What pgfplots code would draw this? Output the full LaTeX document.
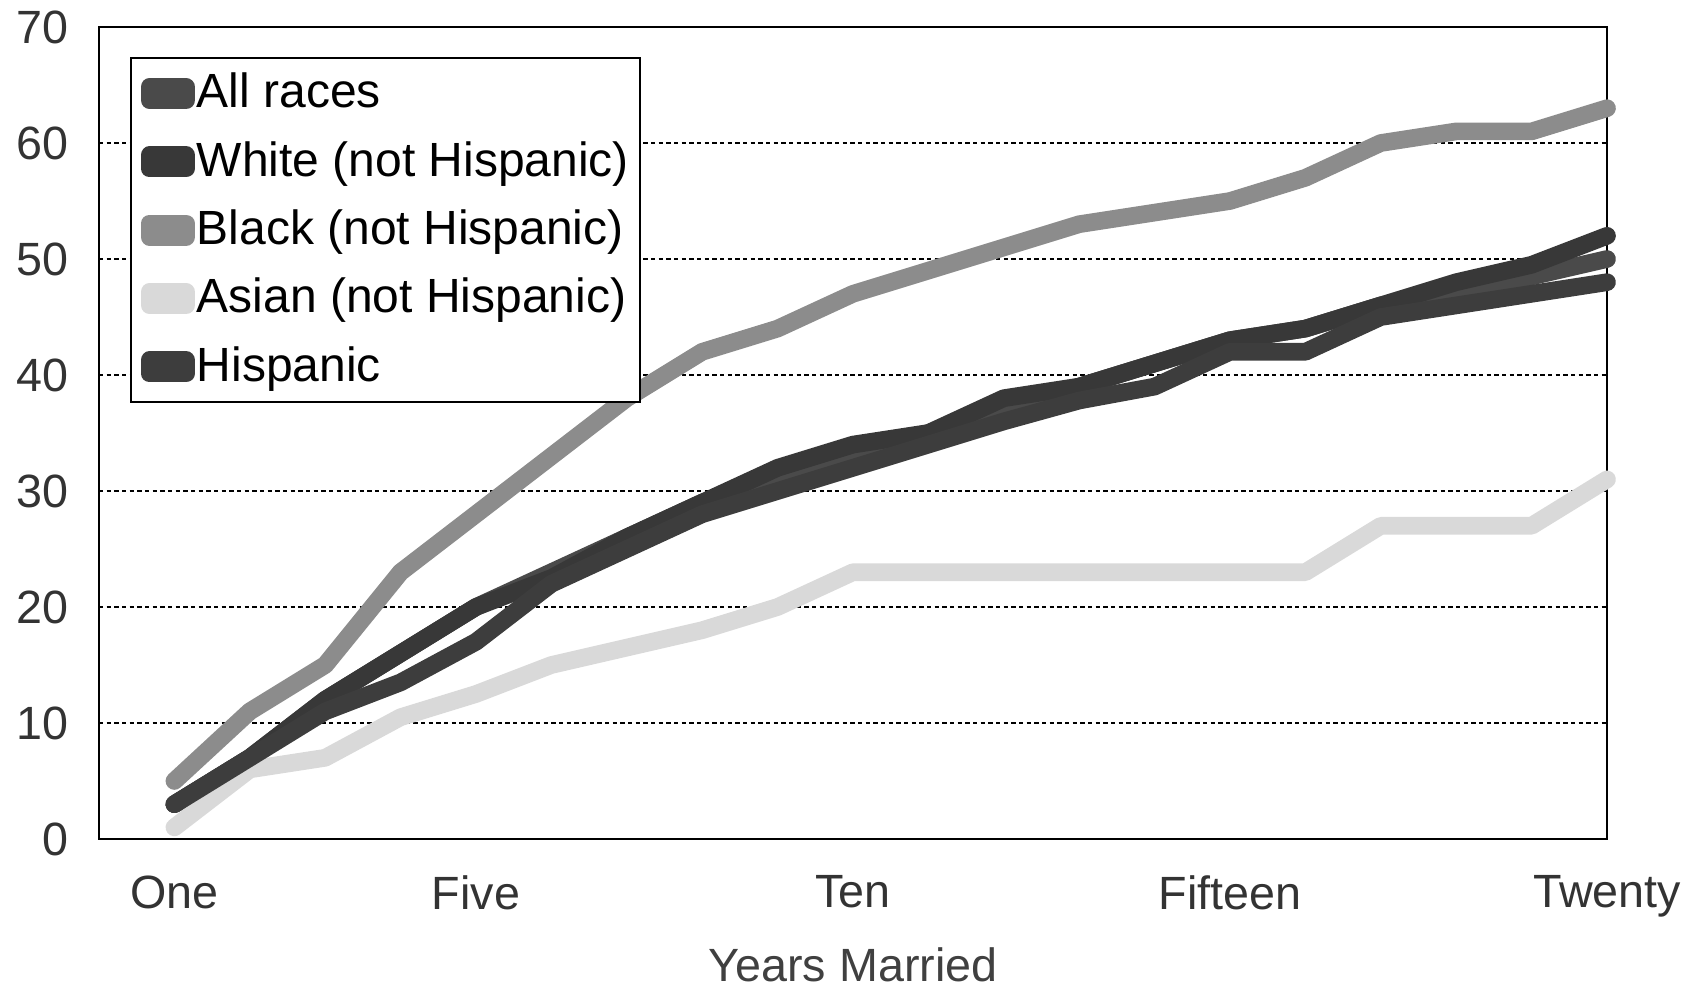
\documentclass[border=0pt]{standalone}
\usepackage{fontspec}
\setmainfont{Liberation Sans}
\usepackage{pgfplots}
\pgfplotsset{compat=1.18}
\definecolor{allc}{HTML}{4A4A4A}
\definecolor{whitec}{HTML}{383838}
\definecolor{blackc}{HTML}{8C8C8C}
\definecolor{asianc}{HTML}{D9D9D9}
\definecolor{hispc}{HTML}{3D3D3D}
\begin{document}
\begin{tikzpicture}
\useasboundingbox (-29.7pt,-44.7pt) rectangle (478.5pt,251.7pt);
\begin{axis}[
  at={(0,0)}, anchor=south west,
  scale only axis, width=452.4pt, height=243.6pt,
  xmin=0, xmax=20, ymin=0, ymax=70,
  xtick={1,5,10,15,20}, xticklabels={One,Five,Ten,Fifteen,Twenty},
  ytick={0,10,...,70},
  major tick length=0pt,
  ymajorgrids, grid style={black, line width=0.4pt, dash pattern=on 1.3pt off 1pt},
  axis line style={black, line width=0.6pt},
  tick label style={font=\fontsize{14}{16}\selectfont, text=black!80},
  /pgf/number format/assume math mode=true,
  yticklabel style={xshift=-5.5pt},
  xticklabel style={yshift=-7.4pt},
  xlabel={Years Married},
  xlabel style={at={(axis description cs:0.5,-0.155)}, anchor=center, font=\fontsize{14}{16}\selectfont, text=black!75},
  clip=false,
  legend style={at={(rel axis cs:0.0206,0.963)}, anchor=north west, draw=black, line width=0.6pt,
    font=\fontsize{14.4}{16.5}\selectfont, row sep=5.0pt, inner sep=2.9pt,
    nodes={inner sep=0.5pt, text height=11.5pt, text depth=3pt}},
  legend cell align=left,
  legend image code/.code={\path (0pt,-2pt) rectangle (11pt,2pt); \draw[#1, line cap=round] (2.65pt,0pt) -- (8.3pt,0pt);},
  every axis plot/.append style={line width=5.3pt, line cap=round, line join=round},
]
\addplot[allc] coordinates {(1,3)(2,7)(3,12)(4,16)(5,20)(6,23)(7,26)(8,29)(9,31)(10,33)(11,35)(12,37)(13,39)(14,41)(15,43)(16,44)(17,46)(18,47)(19,48.5)(20,50)};
\addlegendentry{All races}
\addplot[whitec] coordinates {(1,3)(2,7)(3,12)(4,16)(5,20)(6,22.5)(7,26)(8,29)(9,32)(10,34)(11,35)(12,38)(13,39)(14,41)(15,43)(16,44)(17,46)(18,48)(19,49.5)(20,52)};
\addlegendentry{White (not Hispanic)\hspace{2.2pt}}
\addplot[blackc] coordinates {(1,5)(2,11)(3,15)(4,23)(5,28)(6,33)(7,38)(8,42)(9,44)(10,47)(11,49)(12,51)(13,53)(14,54)(15,55)(16,57)(17,60)(18,61)(19,61)(20,63)};
\addlegendentry{Black (not Hispanic)}
\addplot[asianc] coordinates {(1,1)(2,6)(3,7)(4,10.5)(5,12.5)(6,15)(7,16.5)(8,18)(9,20)(10,23)(11,23)(12,23)(13,23)(14,23)(15,23)(16,23)(17,27)(18,27)(19,27)(20,31)};
\addlegendentry{Asian (not Hispanic)}
\addplot[hispc] coordinates {(1,3)(2,7)(3,11)(4,13.5)(5,17)(6,22)(7,25)(8,28)(9,30)(10,32)(11,34)(12,36)(13,37.8)(14,39)(15,42)(16,42)(17,45)(18,46)(19,47)(20,48)};
\addlegendentry{Hispanic}
\end{axis}
\end{tikzpicture}
\end{document}
